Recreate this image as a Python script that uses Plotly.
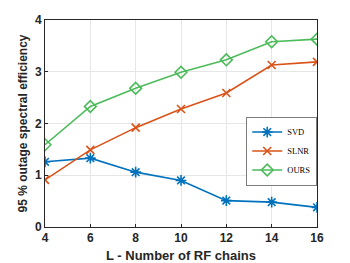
import plotly.graph_objects as go

L = [4, 6, 8, 10, 12, 14, 16]
svd = [1.26, 1.33, 1.06, 0.90, 0.51, 0.48, 0.38]
slnr = [0.91, 1.49, 1.92, 2.28, 2.59, 3.13, 3.19]
ours = [1.59, 2.33, 2.68, 2.99, 3.23, 3.58, 3.63]

fig = go.Figure()
fig.add_trace(go.Scatter(x=L, y=svd, name="SVD", mode="lines+markers",
                         line=dict(color="#0072BD", width=1.6),
                         marker=dict(symbol="asterisk-open", size=9, line=dict(color="#0072BD", width=1.6))))
fig.add_trace(go.Scatter(x=L, y=slnr, name="SLNR", mode="lines+markers",
                         line=dict(color="#D95319", width=1.6),
                         marker=dict(symbol="x-thin-open", size=8, line=dict(color="#D95319", width=1.6))))
fig.add_trace(go.Scatter(x=L, y=ours, name="OURS", mode="lines+markers",
                         line=dict(color="#4CBB5A", width=1.6),
                         marker=dict(symbol="diamond-open", size=9, line=dict(color="#4CBB5A", width=1.6))))

axis_common = dict(showline=True, linecolor="#262626", linewidth=1, mirror=True,
                   ticks="inside", ticklen=3, tickcolor="#262626", automargin=False,
                   showgrid=True, gridcolor="#E6E6E6", gridwidth=1, zeroline=False,
                   tickfont=dict(family="Liberation Sans, Arial", size=12, color="#262626", weight="bold"))

fig.update_xaxes(range=[4, 16], tickvals=[4, 6, 8, 10, 12, 14, 16],
                 title=dict(text="L - Number of RF chains", standoff=6,
                            font=dict(family="Liberation Sans, Arial", size=13, color="#262626", weight="bold")),
                 **axis_common)
fig.update_yaxes(range=[0, 4], tickvals=[0, 1, 2, 3, 4],
                 title=dict(text="95 % outage spectral efficiency", standoff=4,
                            font=dict(family="Liberation Sans, Arial", size=12, color="#262626", weight="bold")),
                 **axis_common)

# page body has an 8px default margin; size/margins compensate for it
fig.update_layout(width=342, height=255, margin=dict(l=37, r=33, t=12, b=36),
                  plot_bgcolor="white", paper_bgcolor="white",
                  legend=dict(x=0.87, y=0.365, xanchor="center", yanchor="middle",
                              bgcolor="white", bordercolor="#262626", borderwidth=0.6,
                              font=dict(family="Liberation Serif, Times New Roman", size=8.5, color="black"),
                              itemwidth=30, tracegroupgap=0))
fig.write_html("out.html")
